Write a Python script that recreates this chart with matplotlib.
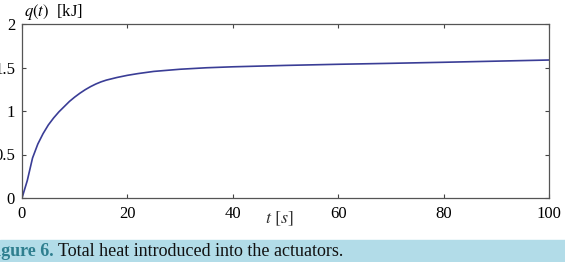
import matplotlib.pyplot as plt
from matplotlib.patches import Rectangle

# time [s] and total heat [kJ]
t = [0, 1, 2, 3, 4, 5, 6, 7, 8, 9, 10, 11, 12, 13, 14, 15, 16, 18, 20, 22, 25, 30, 35,
     40, 50, 60, 70, 80, 90, 100]
q = [0, 0.20, 0.46, 0.62, 0.74, 0.84, 0.92, 0.99, 1.05, 1.11, 1.16, 1.205, 1.245, 1.28,
     1.31, 1.335, 1.355, 1.385, 1.41, 1.43, 1.455, 1.48, 1.497, 1.508, 1.524, 1.537,
     1.548, 1.560, 1.573, 1.586]

xticks = [0, 20, 40, 60, 80, 100]
yticks = [0, 0.5, 1, 1.5, 2]
yticklabels = ["0", "0.5", "1", "1.5", "2"]

plt.rcParams["font.family"] = ["Liberation Serif", "DejaVu Serif"]
plt.rcParams["mathtext.fontset"] = "stix"

fig = plt.figure(figsize=(5.65, 2.62), dpi=100)
ax = fig.add_axes([22 / 565, 1 - 198 / 262, 527 / 565, 174 / 262])

ax.plot(t, q, color="#3a3d96", lw=1.2)

ax.set_xlim(0, 100)
ax.set_ylim(0, 2)
ax.set_xticks(xticks)
ax.set_yticks(yticks)
ax.set_yticklabels(yticklabels)
ax.tick_params(direction="in", length=3, width=0.8, color="#444444",
               top=True, right=True, labelsize=12)
ax.tick_params(axis="x", pad=6)
ax.tick_params(axis="y", pad=5)
for s in ax.spines.values():
    s.set_color("#555555")
    s.set_linewidth(0.9)

fig.text(24 / 565, 1 - 12 / 262, r"$q(t)$  [kJ]", fontsize=12, va="center", ha="left")
fig.text(279 / 565, 1 - 219 / 262, r"$t\ [s]$", fontsize=13, va="center", ha="center",
         color="#333333")

# caption band
fig.patches.append(Rectangle((0, 0), 1, 22 / 262, transform=fig.transFigure,
                             color="#b2dce8", zorder=0))
fig.text(54 / 565, 10 / 262, "Figure 6.", fontsize=13, fontweight="bold",
         color="#2f7f8f", ha="right", va="center")
fig.text(58 / 565, 10 / 262, "Total heat introduced into the actuators.", fontsize=13,
         color="#111111", ha="left", va="center")

fig.savefig("out.png", dpi=100)
